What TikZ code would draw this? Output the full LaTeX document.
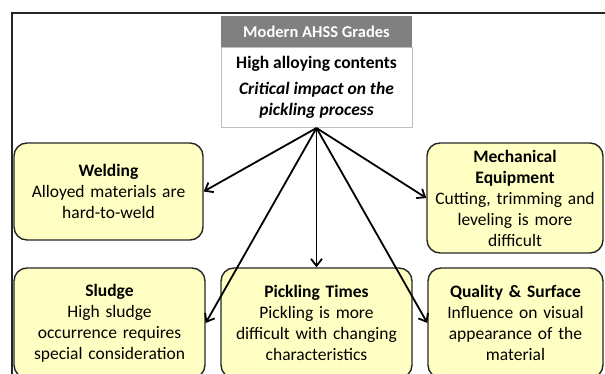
\documentclass[tikz,border=0pt]{standalone}
\usepackage{fontspec}
\setmainfont{Carlito}
\usetikzlibrary{arrows.meta, positioning}
\definecolor{cardfill}{RGB}{255,255,195}
\definecolor{hdrgray}{RGB}{128,128,128}
\tikzset{
  card/.style = {draw=black!85, line width=1.4pt, rounded corners=13pt, fill=cardfill,
                 align=center, text width=170pt, inner sep=0pt,
                 font=\fontsize{17.5}{21}\selectfont},
  hdr/.style  = {fill=hdrgray, text=white, font=\bfseries\fontsize{16.5}{18}\selectfont,
                 minimum width=191pt, minimum height=31pt, inner sep=0pt},
  info/.style = {draw=black!25, line width=0.8pt, fill=white, align=center,
                 minimum width=191pt, minimum height=80pt, inner sep=0pt,
                 font=\bfseries\fontsize{17.5}{21}\selectfont},
  fl/.style   = {-{Straight Barb[length=7pt, width=11pt]}, line width=1.8pt},
}

\begin{document}
\begin{tikzpicture}[x=1pt, y=-1pt]
    \useasboundingbox (0,0) rectangle (605,374);
    \clip (0,0) rectangle (605,374);
    % outer frame (cut by the page)
    \draw[black!85, line width=1.6pt] (12,400) -- (12,13) -- (620,13);
    % top: grades
    \node[hdr] (grd) at (316.5,31.5) {Modern AHSS Grades};
    \node[info, below=0pt of grd] (alloy) {High alloying contents\\[5pt]
      \itshape Critical impact on the\\ \itshape pickling process};
    % row 1
    \node[card, minimum width=189pt, minimum height=97pt] (weld) at (108.5,191.5)
      {\textbf{Welding}\\ Alloyed materials are\\ hard-to-weld};
    \node[card, minimum width=176pt, minimum height=110pt] (mech) at (515,198)
      {\textbf{Mechanical}\\ \textbf{Equipment}\\ Cutting, trimming and\\ leveling is more\\ difficult};
    % row 2
    \node[card, minimum width=191pt, minimum height=110pt] (sldg) at (109.5,323)
      {\textbf{Sludge}\\ High sludge\\ occurrence requires\\ special consideration};
    \node[card, minimum width=191pt, minimum height=110pt] (pick) at (316.5,323)
      {\textbf{Pickling Times}\\ Pickling is more\\ difficult with changing\\ characteristics};
    \node[card, minimum width=175pt, minimum height=110pt] (qual) at (515.5,323)
      {\textbf{Quality \& Surface}\\ Influence on visual\\ appearance of the\\ material};
    \draw[fl] (alloy.south) -- (weld.east);
    \draw[fl] (alloy.south) -- (mech.west);
    \draw[fl] (alloy.south) -- (pick.north);
    \draw[fl] (alloy.south) -- (sldg.east);
    \draw[fl] (alloy.south) -- (qual.west);
\end{tikzpicture}
\end{document}
